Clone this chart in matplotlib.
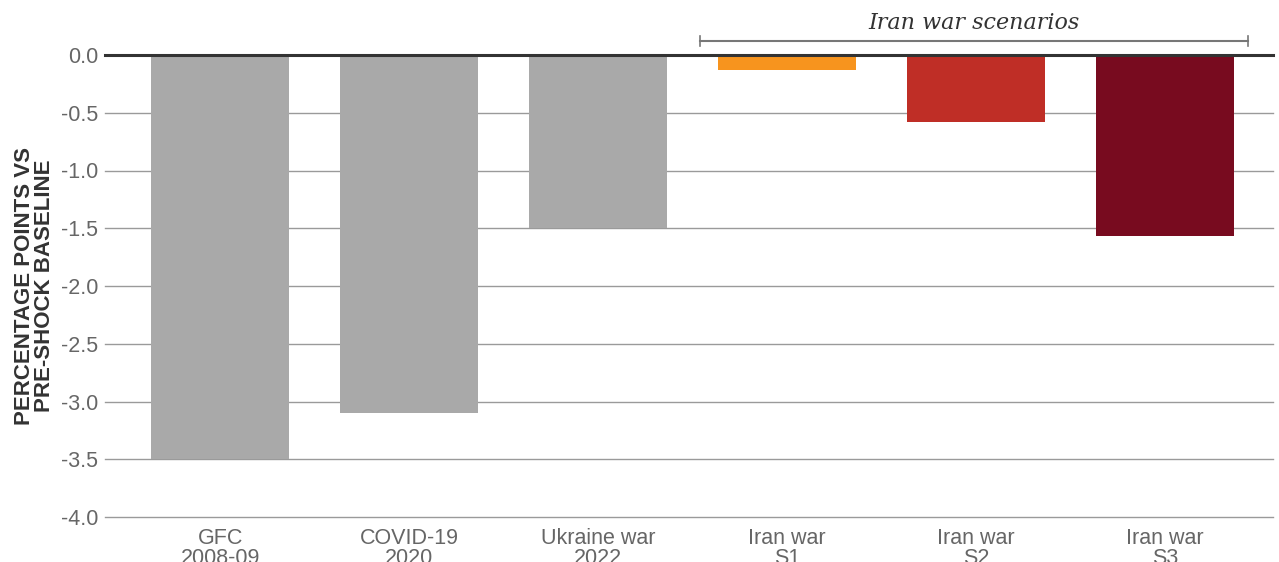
import matplotlib.pyplot as plt

# shock episodes and their estimated impact (pp vs pre-shock baseline)
labels = ["GFC\n2008-09", "COVID-19\n2020", "Ukraine war\n2022",
          "Iran war\nS1", "Iran war\nS2", "Iran war\nS3"]
values = [-3.5, -3.1, -1.5, -0.13, -0.58, -1.57]
colors = ["#a9a9a9", "#a9a9a9", "#a9a9a9", "#f7941e", "#bf2e26", "#780b1f"]
yticks = [0.0, -0.5, -1.0, -1.5, -2.0, -2.5, -3.0, -3.5, -4.0]

plt.rcParams['font.family'] = ['Liberation Sans', 'DejaVu Sans']

fig = plt.figure(figsize=(12.79, 5.62), dpi=100)
ax = fig.add_axes([105 / 1279, 1 - 517 / 562, 1168 / 1279, 462 / 562])

x = list(range(len(values)))
ax.bar(x, values, width=0.73, color=colors, zorder=2)

ax.set_ylim(-4.0, 0.0)
ax.set_xlim(-0.61, 5.57)
ax.set_yticks(yticks)
ax.set_yticklabels([f"{v:.1f}" for v in yticks])
ax.set_xticks(x)
ax.set_xticklabels(labels, linespacing=0.9)
ax.tick_params(axis='both', length=0, labelsize=15.5, labelcolor="#666666")
ax.tick_params(axis='y', pad=5)
ax.tick_params(axis='x', pad=8)

for v in yticks[1:]:
    ax.axhline(v, color="#9a9a9a", lw=1.0, zorder=1, clip_on=False)
ax.axhline(0, color="#333333", lw=2.2, zorder=3, clip_on=False)

for s in ax.spines.values():
    s.set_visible(False)

ax.set_ylabel("PERCENTAGE POINTS VS\nPRE-SHOCK BASELINE", fontsize=16,
              fontweight='bold', color="#333333", linespacing=0.95, labelpad=4)

# bracket over the scenario bars
bx0, bx1, by = 2.54, 5.44, 0.12
ax.plot([bx0, bx1], [by, by], color="#777777", lw=1.5, clip_on=False)
for bx in (bx0, bx1):
    ax.plot([bx, bx], [by - 0.045, by + 0.045], color="#777777", lw=1.2, clip_on=False)
ax.text((bx0 + bx1) / 2, by + 0.06, "Iran war scenarios", ha='center', va='bottom',
        fontsize=16, style='italic', family='DejaVu Serif', color="#333333",
        clip_on=False)

fig.savefig("out.png", dpi=100)
